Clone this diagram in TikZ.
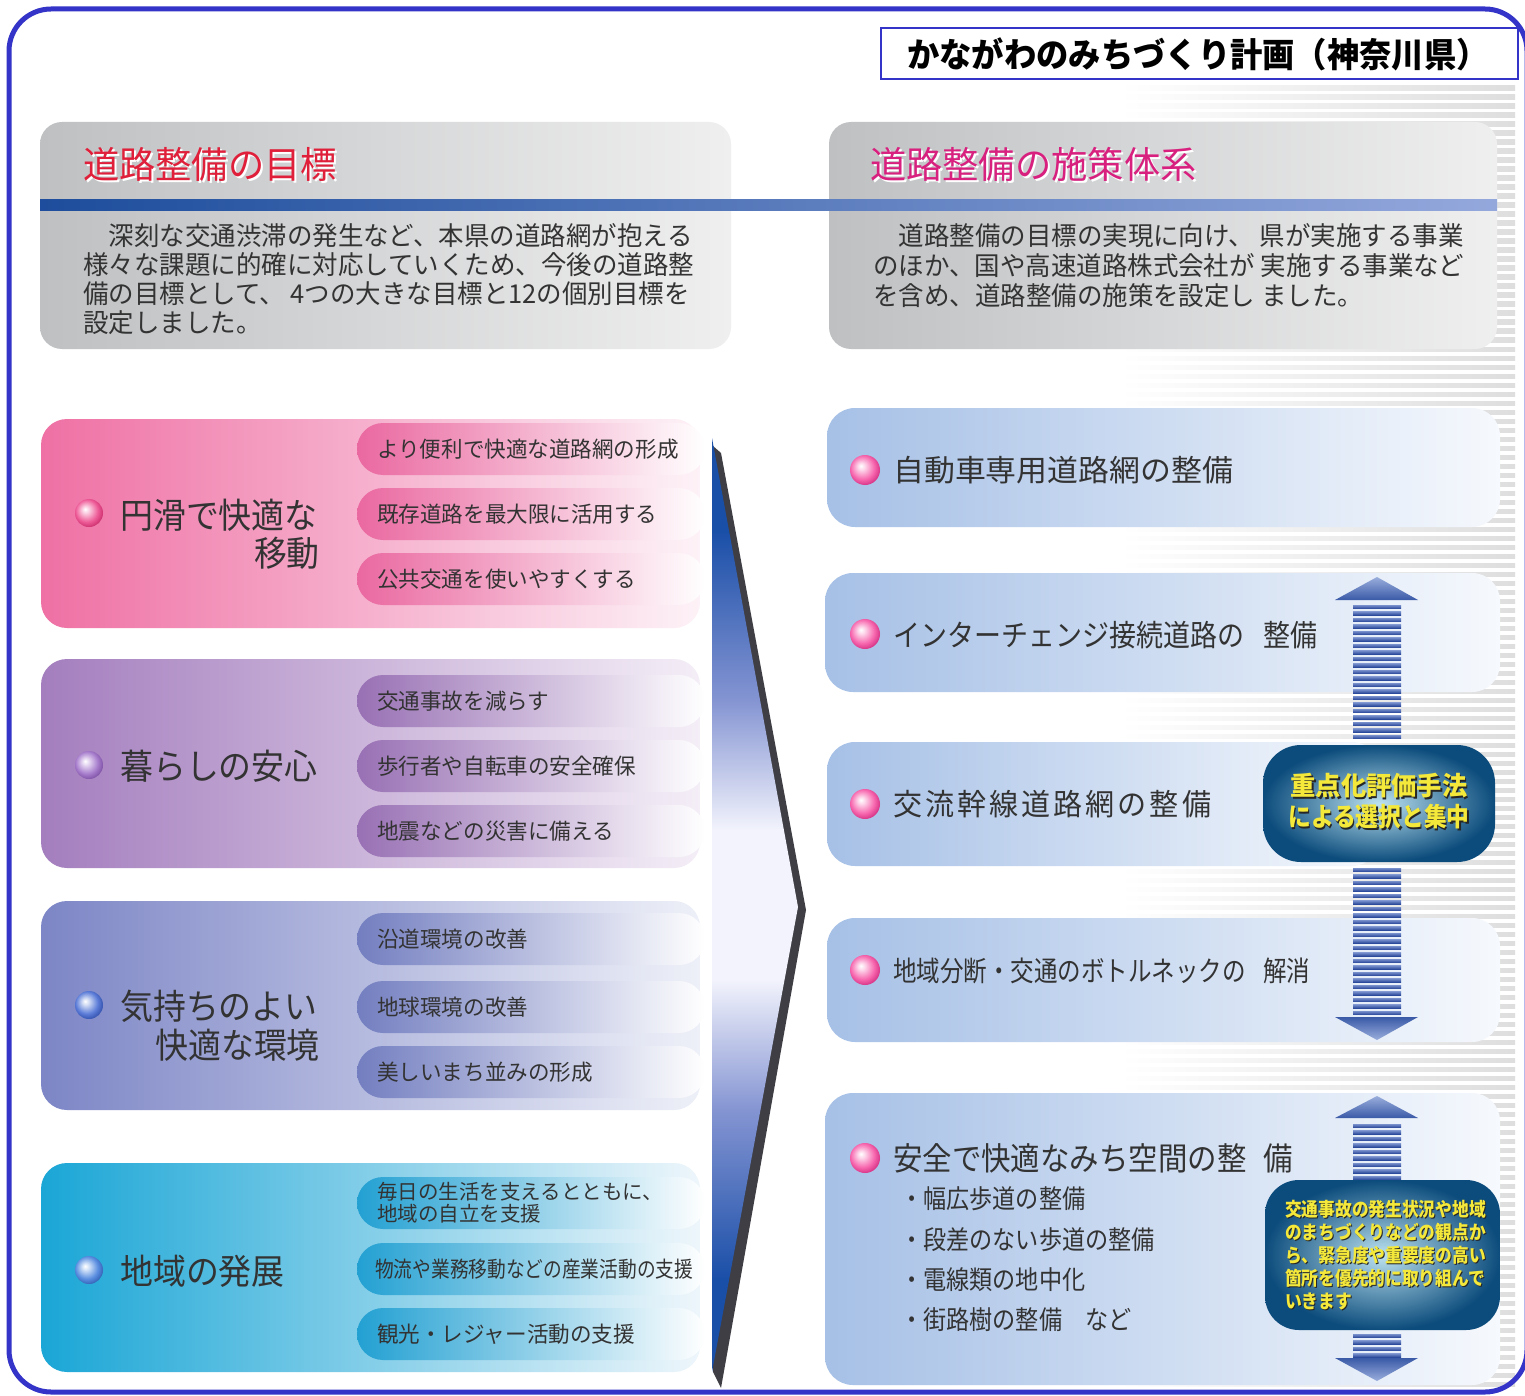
\documentclass[tikz,border=0pt]{standalone}
\usepackage{fontspec}
\setmainfont{Noto Sans CJK JP}
\definecolor{frameblue}{HTML}{3434C8}
\definecolor{txtgray}{HTML}{333333}
\definecolor{hdrdark}{HTML}{BEC0C2}
\definecolor{hdrlight}{HTML}{EFEFEF}
\definecolor{barL}{HTML}{1D4D9C}
\definecolor{barR}{HTML}{94A8DC}
\definecolor{titlered}{HTML}{E0203A}
\definecolor{titlemag}{HTML}{D8207F}
\definecolor{gA}{HTML}{EF70A4}
\definecolor{gAe}{HTML}{FDF2F7}
\definecolor{pA}{HTML}{EA68A0}
\definecolor{gB}{HTML}{A47EBE}
\definecolor{gBe}{HTML}{F4EEF7}
\definecolor{pB}{HTML}{9870B4}
\definecolor{gC}{HTML}{7D86C6}
\definecolor{gCe}{HTML}{EEF0F8}
\definecolor{pC}{HTML}{737EC0}
\definecolor{gD}{HTML}{1AA6D6}
\definecolor{gDe}{HTML}{EEF6FB}
\definecolor{pD}{HTML}{22A0D2}
\definecolor{rboxL}{HTML}{A6C0E6}
\definecolor{rboxR}{HTML}{F6F9FD}
\definecolor{chevblue}{HTML}{1A4FA8}
\definecolor{chevmid}{HTML}{8494D2}
\definecolor{chevlight}{HTML}{F2F3FC}
\definecolor{chevdark}{HTML}{3E3E44}
\definecolor{stripeT}{HTML}{7890CC}
\definecolor{stripeB}{HTML}{2A489A}
\definecolor{triT}{HTML}{9AAEDC}
\definecolor{triB}{HTML}{3A5AA8}
\definecolor{tealIn}{HTML}{BCE2F0}
\definecolor{tealOut}{HTML}{0C4C7C}
\definecolor{yel}{HTML}{F4E83A}
\definecolor{bA}{HTML}{EE5C98}
\definecolor{bAd}{HTML}{C82868}
\definecolor{bAh}{HTML}{FBD0E2}
\definecolor{bB}{HTML}{A67CCC}
\definecolor{bBd}{HTML}{7A4CA0}
\definecolor{bBh}{HTML}{E6D8F2}
\definecolor{bC}{HTML}{5B7CD8}
\definecolor{bCd}{HTML}{2F4CA8}
\definecolor{bCh}{HTML}{D2DCF4}
\definecolor{bD}{HTML}{5A8EE0}
\definecolor{bDd}{HTML}{2E5CB0}
\definecolor{bDh}{HTML}{D2E2F8}
\definecolor{bR}{HTML}{F766AE}
\definecolor{bRd}{HTML}{D02C80}
\definecolor{bRh}{HTML}{FDD6EA}
\pgfdeclareverticalshading{chevshade}{100bp}{color(0bp)=(chevblue); color(25bp)=(chevblue); color(30bp)=(chevblue); color(39bp)=(chevmid); color(46bp)=(chevlight); color(54bp)=(chevlight); color(61bp)=(chevmid); color(70bp)=(chevblue); color(75bp)=(chevblue); color(100bp)=(chevblue)}
\pgfdeclareradialshading{glossA}{\pgfpoint{-7bp}{7bp}}{color(0bp)=(white); color(6bp)=(bAh); color(20bp)=(bA); color(30bp)=(bAd); color(50bp)=(bAd)}
\pgfdeclareradialshading{glossB}{\pgfpoint{-7bp}{7bp}}{color(0bp)=(white); color(6bp)=(bBh); color(20bp)=(bB); color(30bp)=(bBd); color(50bp)=(bBd)}
\pgfdeclareradialshading{glossC}{\pgfpoint{-7bp}{7bp}}{color(0bp)=(white); color(6bp)=(bCh); color(20bp)=(bC); color(30bp)=(bCd); color(50bp)=(bCd)}
\pgfdeclareradialshading{glossD}{\pgfpoint{-7bp}{7bp}}{color(0bp)=(white); color(6bp)=(bDh); color(20bp)=(bD); color(30bp)=(bDd); color(50bp)=(bDd)}
\pgfdeclareradialshading{glossR}{\pgfpoint{-7bp}{7bp}}{color(0bp)=(white); color(6bp)=(bRh); color(20bp)=(bR); color(30bp)=(bRd); color(50bp)=(bRd)}
\newcommand{\jtxt}[3]{\fontsize{#2}{#2}\selectfont\addfontfeature{FakeStretch=#1}#3}
\tikzset{
  txt/.style={inner sep=0pt, text=txtgray},
  hdrbox/.style={rounded corners=22, left color=hdrdark, right color=hdrlight},
  rbox/.style={rounded corners=28, left color=rboxL, right color=rboxR},
  tealbox/.style={rounded corners=38, inner color=tealIn, outer color=tealOut},
  yellowtxt/.style={inner sep=0pt, text=yel, font=\bfseries},
  yshadow/.style={inner sep=0pt, text=black!85, font=\bfseries},
}
\begin{document}
\begin{tikzpicture}[x=1pt,y=-1pt]
\useasboundingbox (0,0) rectangle (1525,1396);
\fill[white] (0,0) rectangle (1525,1396);

% background stripes on the right
\foreach \yy in {86,95,...,1386}{
  \shade[left color=white, right color=black!13] (1120,\yy) rectangle (1515,\yy+4.5);
}

% header boxes
\shade[hdrbox] (40,122) rectangle (731,349);
\shade[hdrbox] (829,122) rectangle (1497,349);
\shade[left color=barL, right color=barR] (40,200) rectangle (1497,211);

\node[txt, anchor=west, text=white] (t1s) at (85,166) {\jtxt{0.98}{37}{道路整備の目標}};
\node[txt, anchor=west, text=titlered] (t1) at (83,164) {\jtxt{0.98}{37}{道路整備の目標}};
\node[txt, anchor=west, text=white] (t2s) at (872,166) {\jtxt{0.98}{37}{道路整備の施策体系}};
\node[txt, anchor=west, text=titlemag] (t2) at (870,164) {\jtxt{0.98}{37}{道路整備の施策体系}};

\node[txt, anchor=west] (lb1) at (83,236) {\jtxt{0.98}{26}{　深刻な交通渋滞の発生など、本県の道路網が抱える}};
\node[txt, anchor=west] (lb2) at (83,265) {\jtxt{0.98}{26}{様々な課題に的確に対応していくため、今後の道路整}};
\node[txt, anchor=west] (lb3) at (83,294) {\jtxt{0.98}{26}{備の目標として、 4つの大きな目標と12の個別目標を}};
\node[txt, anchor=west] (lb4) at (83,323) {\jtxt{0.98}{26}{設定しました。}};

\node[txt, anchor=west] (rb1) at (873,236) {\jtxt{0.98}{26}{　道路整備の目標の実現に向け、 県が実施する事業}};
\node[txt, anchor=west] (rb2) at (873,266) {\jtxt{0.98}{26}{のほか、国や高速道路株式会社が 実施する事業など}};
\node[txt, anchor=west] (rb3) at (873,296) {\jtxt{0.98}{26}{を含め、道路整備の施策を設定し ました。}};

% ---------- left groups ----------
% group A
\shade[rounded corners=26, left color=gA, right color=gAe] (41,419) rectangle (700,628);
\shade[rounded corners=26, left color=pA, right color=white] (357,423) rectangle (705,475);
\shade[rounded corners=26, left color=pA, right color=white] (357,488) rectangle (705,540);
\shade[rounded corners=26, left color=pA, right color=white] (357,553) rectangle (705,605);
\shade[shading=glossA] (89,513) circle (14);
\node[txt, anchor=west] (gA1) at (120,515) {\jtxt{0.94}{35}{円滑で快適な}};
\node[txt, anchor=east] (gA2) at (320,553) {\jtxt{0.94}{35}{移動}};
\node[txt, anchor=west] (pA1) at (377,449) {\jtxt{0.98}{22}{より便利で快適な道路網の形成}};
\node[txt, anchor=west] (pA2) at (377,514) {\jtxt{0.98}{22}{既存道路を最大限に活用する}};
\node[txt, anchor=west] (pA3) at (377,579) {\jtxt{0.98}{22}{公共交通を使いやすくする}};

% group B
\shade[rounded corners=26, left color=gB, right color=gBe] (41,659) rectangle (700,868);
\shade[rounded corners=26, left color=pB, right color=white] (357,675) rectangle (705,727);
\shade[rounded corners=26, left color=pB, right color=white] (357,740) rectangle (705,792);
\shade[rounded corners=26, left color=pB, right color=white] (357,805) rectangle (705,857);
\shade[shading=glossB] (89,765) circle (14);
\node[txt, anchor=west] (gB1) at (120,766) {\jtxt{0.94}{35}{暮らしの安心}};
\node[txt, anchor=west] (pB1) at (377,701) {\jtxt{0.98}{22}{交通事故を減らす}};
\node[txt, anchor=west] (pB2) at (377,766) {\jtxt{0.98}{22}{歩行者や自転車の安全確保}};
\node[txt, anchor=west] (pB3) at (377,831) {\jtxt{0.98}{22}{地震などの災害に備える}};

% group C
\shade[rounded corners=26, left color=gC, right color=gCe] (41,901) rectangle (700,1110);
\shade[rounded corners=26, left color=pC, right color=white] (357,913) rectangle (705,965);
\shade[rounded corners=26, left color=pC, right color=white] (357,981) rectangle (705,1033);
\shade[rounded corners=26, left color=pC, right color=white] (357,1046) rectangle (705,1098);
\shade[shading=glossC] (89,1005) circle (14);
\node[txt, anchor=west] (gC1) at (120,1006) {\jtxt{0.94}{35}{気持ちのよい}};
\node[txt, anchor=east] (gC2) at (320,1045) {\jtxt{0.94}{35}{快適な環境}};
\node[txt, anchor=west] (pC1) at (377,939) {\jtxt{0.98}{22}{沿道環境の改善}};
\node[txt, anchor=west] (pC2) at (377,1007) {\jtxt{0.98}{22}{地球環境の改善}};
\node[txt, anchor=west] (pC3) at (377,1072) {\jtxt{0.98}{22}{美しいまち並みの形成}};

% group D
\shade[rounded corners=26, left color=gD, right color=gDe] (41,1163) rectangle (700,1372);
\shade[rounded corners=26, left color=pD, right color=white] (357,1177) rectangle (705,1229);
\shade[rounded corners=26, left color=pD, right color=white] (357,1243) rectangle (705,1295);
\shade[rounded corners=26, left color=pD, right color=white] (357,1308) rectangle (705,1360);
\shade[shading=glossD] (89,1270) circle (14);
\node[txt, anchor=west] (gD1) at (120,1271) {\jtxt{0.94}{35}{地域の発展}};
\node[txt, anchor=west] (pD1a) at (377,1192) {\jtxt{1}{20.5}{毎日の生活を支えるとともに、}};
\node[txt, anchor=west] (pD1b) at (377,1214) {\jtxt{1}{20.5}{地域の自立を支援}};
\node[txt, anchor=west] (pD2) at (375,1269) {\jtxt{0.85}{22}{物流や業務移動などの産業活動の支援}};
\node[txt, anchor=west] (pD3) at (377,1334) {\jtxt{0.98}{22}{観光・レジャー活動の支援}};

% ---------- chevron ----------
\fill[chevdark] (713,446) -- (721,453) -- (806,910) -- (721,1388) -- (713,1372) -- cycle;
\shade[shading=chevshade] (712,438) -- (798,907) -- (712,1372) -- cycle;

% ---------- right boxes ----------
\shade[rbox] (827,408) rectangle (1500,527);
\shade[rbox] (825,573) rectangle (1500,692);
\shade[rbox] (827,742) rectangle (1380,866);
\shade[rbox] (827,918) rectangle (1500,1042);
\shade[rbox] (825,1093) rectangle (1500,1385);

\shade[shading=glossR] (865,470) circle (15);
\shade[shading=glossR] (865,634) circle (15);
\shade[shading=glossR] (865,804) circle (15);
\shade[shading=glossR] (865,970) circle (15);
\shade[shading=glossR] (865,1158) circle (15);

\node[txt, anchor=west] (r1) at (893,470) {\jtxt{1.03}{30}{自動車専用道路網の整備}};
\node[txt, anchor=west] (r2) at (893,635) {\jtxt{0.9}{30}{インターチェンジ接続道路の}};
\node[txt, anchor=west] (r2b) at (1263,635) {\jtxt{0.9}{30}{整備}};
\node[txt, anchor=west] (r3) at (893,804) {\jtxt{0.97}{30}{\addfontfeature{LetterSpace=10}交流幹線道路網の整備}};
\node[txt, anchor=west] (r4) at (893,971) {\jtxt{0.84}{28}{地域分断・交通のボトルネックの}};
\node[txt, anchor=west] (r4b) at (1263,971) {\jtxt{0.84}{28}{解消}};
\node[txt, anchor=west] (r5) at (893,1158) {\jtxt{0.92}{32}{安全で快適なみち空間の整}};
\node[txt, anchor=west] (r5b) at (1263,1158) {\jtxt{0.92}{32}{備}};
\node[txt, anchor=west] (b1) at (900,1199) {\jtxt{0.89}{26}{・幅広歩道の整備}};
\node[txt, anchor=west] (b2) at (900,1240) {\jtxt{0.89}{26}{・段差のない歩道の整備}};
\node[txt, anchor=west] (b3) at (900,1280) {\jtxt{0.89}{26}{・電線類の地中化}};
\node[txt, anchor=west] (b4) at (900,1320) {\jtxt{0.89}{26}{・街路樹の整備　など}};

% ---------- striped arrows ----------
\shade[top color=triT, bottom color=triB] (1335,600) -- (1377,577) -- (1418,600) -- cycle;
\foreach \yy in {605,611.5,...,738}{
  \shade[top color=stripeT, bottom color=stripeB] (1353,\yy) rectangle (1401,\yy+3.6);
}
\foreach \yy in {868,874.5,...,1011}{
  \shade[top color=stripeT, bottom color=stripeB] (1353,\yy) rectangle (1401,\yy+3.6);
}
\shade[top color=triB, bottom color=triT] (1335,1017) -- (1418,1017) -- (1377,1040) -- cycle;

\shade[top color=triT, bottom color=triB] (1335,1118) -- (1377,1096) -- (1418,1118) -- cycle;
\foreach \yy in {1124,1130.5,...,1178}{
  \shade[top color=stripeT, bottom color=stripeB] (1353,\yy) rectangle (1401,\yy+3.6);
}
\foreach \yy in {1334,1340.5,...,1354}{
  \shade[top color=stripeT, bottom color=stripeB] (1353,\yy) rectangle (1401,\yy+3.6);
}
\shade[top color=triB, bottom color=triT] (1335,1358) -- (1418,1358) -- (1377,1381) -- cycle;

% ---------- teal boxes ----------
\shade[tealbox] (1263,745) rectangle (1495,862);
\node[yshadow] (k1s) at (1380.5,787.5) {\jtxt{0.97}{26}{重点化評価手法}};
\node[yellowtxt] (k1) at (1379,786) {\jtxt{0.97}{26}{重点化評価手法}};
\node[yshadow] (k2s) at (1380.5,818.5) {\jtxt{0.875}{26}{による選択と集中}};
\node[yellowtxt] (k2) at (1379,817) {\jtxt{0.875}{26}{による選択と集中}};

\shade[tealbox, rounded corners=34] (1265,1180) rectangle (1500,1330);
\foreach \i/\yy/\s in {1/1209/交通事故の発生状況や地域, 2/1232/のまちづくりなどの観点か, 3/1255/ら、緊急度や重要度の高い, 4/1278/箇所を優先的に取り組んで, 5/1301/いきます}{
  \node[yshadow, anchor=west] (m\i s) at (1286,\yy+1) {\jtxt{0.88}{19}{\s}};
  \node[yellowtxt, anchor=west] (m\i) at (1285,\yy) {\jtxt{0.88}{19}{\s}};
}

% ---------- title box ----------
\draw[fill=white, draw=frameblue, line width=2] (881,28) rectangle (1518,79);
\node[txt, text=black, font=\bfseries] (title) at (1198,54) {\jtxt{0.95}{34}{かながわのみちづくり計画（神奈川県）}};

% ---------- frame ----------
\draw[frameblue, line width=5, rounded corners=42] (9,9) rectangle (1527,1392);
\end{tikzpicture}
\end{document}
